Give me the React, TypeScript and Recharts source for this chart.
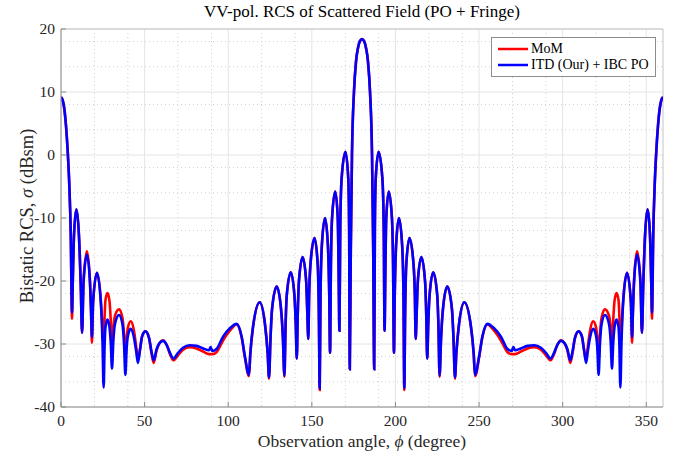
import React from "react";
import {
  LineChart,
  Line,
  XAxis,
  YAxis,
  CartesianGrid,
  ReferenceLine,
} from "recharts";

// observation angle (deg), grouped lobe by lobe
const phi = [
  0, 1, 2, 3, 4, 5, 5.8, 6.6,
  7.0, 7.8, 9.2, 10.7, 11.8, 12.6,
  13.5, 15.5, 17.3, 18.0, 18.5,
  19.2, 21.5, 23.8, 24.8, 25.5,
  26.1, 26.6, 27.8, 29.0, 29.8, 30.5,
  31.3, 32.3, 34.7, 36.7, 37.7, 38.5,
  39.3, 40.1, 41.7, 43.5, 45.0, 46.0,
  47.3, 48.5, 50.5, 52.6, 54.2, 55.4,
  57.2, 58.8, 61.0, 63.3, 65.3, 67.3,
  70, 73, 77, 81, 85, 88.5, 89.5, 90.5,
  93, 97, 101, 105, 108, 110, 112.4,
  113.2, 114.8, 118.8, 122.0, 123.6, 124.4,
  125.3, 126.2, 129.0, 131.6, 132.7, 133.6,
  134.3, 135.0, 137.4, 139.6, 140.4, 141.0,
  141.6, 142.3, 144.5, 146.6, 147.3, 147.9,
  148.4, 149.2, 151.6, 153.5, 154.2, 154.7,
  155.2, 156.0, 157.9, 159.6, 160.4, 160.9,
  161.4, 162.1, 164.0, 165.5, 166.0, 166.5,
  167.0, 167.8, 170.1, 171.8, 172.3, 172.7,
  173.3, 174.0, 175.2, 176.4, 177.6, 178.8, 180, 181.2, 182.4, 183.6, 184.8, 186.0, 186.7, 187.3,
  187.7, 188.2, 189.9, 192.2, 193.0, 193.5,
  194.0, 194.5, 196.0, 197.9, 198.6, 199.1,
  199.6, 200.4, 202.1, 204.0, 204.8, 205.3,
  205.8, 206.5, 208.4, 210.8, 211.6, 212.1,
  212.7, 213.4, 215.5, 217.7, 218.4, 219.0,
  219.6, 220.4, 222.6, 225.0, 225.7, 226.4,
  227.3, 228.4, 231.0, 233.8, 234.7, 235.6,
  236.4, 238.0, 241.2, 245.2, 246.8, 247.6,
  250, 252, 255, 259, 263, 267,
  269.5, 270.5, 271.5, 275, 279, 283, 287, 290, 292.7,
  294.7, 296.7, 299.0, 301.2, 302.8, 304.6,
  305.8, 307.4, 309.5, 311.5, 312.7, 314.0,
  315.0, 316.5, 318.3, 319.9, 320.7, 321.5,
  322.3, 323.3, 325.3, 327.7, 328.7, 329.5,
  330.2, 331.0, 332.2, 333.4, 333.9, 334.5,
  335.2, 336.2, 338.5, 340.8, 341.5,
  342.0, 342.7, 344.5, 346.5, 347.4,
  348.2, 349.3, 350.8, 352.2, 353.0, 353.4,
  354.2, 355, 356, 357, 358, 359, 360,
];

// MoM reference (dBsm)
const mom = [
  9.2, 8.7, 7.3, 4.6, 0.6, -5.0, -12.2, -26.0,
  -20.6, -12.6, -8.6, -12.6, -20.6, -28.2,
  -19.8, -15.3, -19.8, -25.0, -29.8,
  -23.3, -18.7, -23.0, -27.5, -30.5,
  -25.5, -23.0, -21.9, -23.2, -26.5, -31.0,
  -27.5, -25.5, -24.5, -25.8, -28.5, -32.3,
  -29.0, -27.3, -26.4, -27.7, -30.5, -32.5,
  -30.8, -28.8, -28.0, -29.0, -31.6, -33.0,
  -31.0, -29.9, -29.4, -30.2, -31.7, -32.6,
  -31.8, -30.9, -30.5, -30.7, -31.2, -31.6, -31.6, -31.6,
  -31.3, -29.4, -27.9, -26.9, -28.9, -32.2, -35.1,
  -31.7, -27.4, -23.4, -26.9, -31.6, -35.5,
  -29.0, -24.5, -20.9, -24.5, -29.0, -35.2,
  -27.0, -22.3, -18.6, -22.3, -27.0, -32.3,
  -25.0, -20.0, -16.2, -20.0, -25.0, -29.2,
  -22.0, -17.3, -13.2, -17.3, -25.0, -37.3,
  -22.0, -14.3, -10.0, -14.3, -22.0, -31.4,
  -17.8, -10.0, -5.8, -10.0, -17.8, -27.9,
  -11.5, -3.8, 0.5, -3.8, -11.5, -34.0,
  -15.0, 0.0, 10.0, 14.8, 17.0, 18.1, 18.4, 18.1, 17.0, 14.8, 10.0, 0.0, -15.0, -34.0,
  -11.5, -3.8, 0.5, -3.8, -11.5, -27.9,
  -17.8, -10.0, -5.8, -10.0, -17.8, -31.4,
  -22.0, -14.3, -10.0, -14.3, -22.0, -37.3,
  -25.0, -17.3, -13.2, -17.3, -22.0, -29.2,
  -25.0, -20.0, -16.2, -20.0, -25.0, -32.3,
  -27.0, -22.3, -18.6, -22.3, -27.0, -35.2,
  -29.0, -24.5, -20.9, -24.5, -29.0, -35.5,
  -31.6, -26.9, -23.4, -27.4, -31.7, -35.1,
  -32.2, -28.9, -26.9, -27.9, -29.4, -31.3,
  -31.6, -31.6, -31.6, -31.2, -30.7, -30.5, -30.9, -31.8, -32.6,
  -31.7, -30.2, -29.4, -29.9, -31.0, -33.0,
  -31.6, -29.0, -28.0, -28.8, -30.8, -32.5,
  -30.5, -27.7, -26.4, -27.3, -29.0, -32.3,
  -28.5, -25.8, -24.5, -25.5, -27.5, -31.0,
  -26.5, -23.2, -21.9, -23.0, -25.5, -30.5,
  -27.5, -23.0, -18.7, -23.3, -29.8,
  -25.0, -19.8, -15.3, -19.8, -28.2,
  -20.6, -12.6, -8.6, -12.6, -20.6, -26.0,
  -12.2, -5.0, 0.6, 4.6, 7.3, 8.7, 9.2,
];

// ITD (Our) + IBC PO (dBsm)
const itd = [
  9.2, 8.7, 7.3, 4.6, 0.6, -5.0, -12.0, -25.0,
  -20.6, -12.6, -8.6, -12.6, -20.6, -28.2,
  -20.2, -15.8, -20.2, -25.0, -28.9,
  -23.3, -18.7, -23.3, -29.5, -36.9,
  -30.0, -27.3, -26.1, -27.3, -30.0, -33.9,
  -29.5, -26.8, -25.4, -26.8, -30.0, -34.9,
  -30.5, -28.6, -27.6, -28.8, -31.2, -33.0,
  -30.8, -28.8, -28.0, -29.0, -31.3, -32.6,
  -30.8, -29.9, -29.5, -30.2, -31.5, -32.3,
  -31.4, -30.6, -30.2, -30.3, -30.7, -31.0, -30.5, -31.1,
  -30.8, -28.8, -27.5, -26.8, -28.8, -32.0, -34.9,
  -31.5, -27.3, -23.4, -26.9, -31.5, -35.3,
  -29.0, -24.5, -20.9, -24.5, -29.0, -35.0,
  -27.0, -22.3, -18.6, -22.3, -27.0, -32.3,
  -25.0, -20.0, -16.2, -20.0, -25.0, -29.2,
  -22.0, -17.3, -13.2, -17.3, -25.0, -37.0,
  -22.0, -14.3, -10.0, -14.3, -22.0, -31.4,
  -17.8, -10.0, -5.8, -10.0, -17.8, -27.9,
  -11.5, -3.8, 0.5, -3.8, -11.5, -34.0,
  -15.0, 0.0, 10.0, 14.8, 17.0, 18.1, 18.4, 18.1, 17.0, 14.8, 10.0, 0.0, -15.0, -34.0,
  -11.5, -3.8, 0.5, -3.8, -11.5, -27.9,
  -17.8, -10.0, -5.8, -10.0, -17.8, -31.4,
  -22.0, -14.3, -10.0, -14.3, -22.0, -37.0,
  -25.0, -17.3, -13.2, -17.3, -22.0, -29.2,
  -25.0, -20.0, -16.2, -20.0, -25.0, -32.3,
  -27.0, -22.3, -18.6, -22.3, -27.0, -35.0,
  -29.0, -24.5, -20.9, -24.5, -29.0, -35.3,
  -31.5, -26.9, -23.4, -27.3, -31.5, -34.9,
  -32.0, -28.8, -26.8, -27.5, -28.8, -30.8,
  -31.1, -30.5, -31.0, -30.7, -30.3, -30.2, -30.6, -31.4, -32.3,
  -31.5, -30.2, -29.5, -29.9, -30.8, -32.6,
  -31.3, -29.0, -28.0, -28.8, -30.8, -33.0,
  -31.2, -28.8, -27.6, -28.6, -30.5, -34.9,
  -30.0, -26.8, -25.4, -26.8, -29.5, -33.9,
  -30.0, -27.3, -26.1, -27.3, -30.0, -36.9,
  -29.5, -23.3, -18.7, -23.3, -28.9,
  -25.0, -20.2, -15.8, -20.2, -28.2,
  -20.6, -12.6, -8.6, -12.6, -20.6, -25.0,
  -12.0, -5.0, 0.6, 4.6, 7.3, 8.7, 9.2,
];

const xTicks = [0, 50, 100, 150, 200, 250, 300, 350];
const yTicks = [-40, -30, -20, -10, 0, 10, 20];
const xMinor = [10, 20, 30, 40, 60, 70, 80, 90, 110, 120, 130, 140, 160, 170, 180, 190, 210, 220, 230, 240, 260, 270, 280, 290, 310, 320, 330, 340];
const yMinor = [-38, -36, -34, -32, -28, -26, -24, -22, -18, -16, -14, -12, -8, -6, -4, -2, 2, 4, 6, 8, 12, 14, 16, 18];

const series = [
  { key: "mom", name: "MoM", color: "#ff0000" },
  { key: "itd", name: "ITD (Our) + IBC PO", color: "#0000ff" },
];

const data = phi.map((p, i) => ({ phi: p, mom: mom[i], itd: itd[i] }));

const serif = "'Liberation Serif', 'Times New Roman', serif";
const labelColor = "#262626";
const axisColor = "#8a8a8a";

const XTick = (props: any) => {
  const { x, y, payload } = props;
  return (
    <g>
      <line x1={x} y1={y} x2={x} y2={y - 5} stroke={axisColor} strokeWidth={1} />
      <text x={x} y={y + 19} textAnchor="middle" fill={labelColor} fontSize={15.5} fontFamily={serif}>
        {payload.value}
      </text>
    </g>
  );
};

const YTick = (props: any) => {
  const { x, y, payload } = props;
  return (
    <g>
      <line x1={x} y1={y} x2={x + 5} y2={y} stroke={axisColor} strokeWidth={1} />
      <text x={x - 6} y={y + 5} textAnchor="end" fill={labelColor} fontSize={15.5} fontFamily={serif}>
        {payload.value}
      </text>
    </g>
  );
};

// legend drawn by hand so it takes no room from the plot
const LegendBox = () => (
  <div
    style={{
      position: "absolute",
      left: 491,
      top: 37,
      border: "1px solid #8c8c8c",
      background: "#fff",
      padding: "3px 6px 3px 5px",
      fontFamily: serif,
      fontSize: 14,
      color: "#000",
      lineHeight: "16px",
    }}
  >
    {series.map((item) => (
      <div key={item.key} style={{ display: "flex", alignItems: "center", whiteSpace: "nowrap" }}>
        <svg width={34} height={16}>
          <line x1={1} y1={8} x2={31} y2={8} stroke={item.color} strokeWidth={2.5} />
        </svg>
        <span>{item.name}</span>
      </div>
    ))}
  </div>
);

export default function App() {
  return (
    <div style={{ position: "absolute", left: 0, top: 0, width: 690, height: 456, background: "#fff" }}>
      <div
        style={{
          position: "absolute",
          left: 162,
          top: 3,
          width: 400,
          textAlign: "center",
          fontFamily: serif,
          fontSize: 17,
          lineHeight: "18px",
          color: "#000",
        }}
      >
        VV-pol. RCS of Scattered Field (PO + Fringe)
      </div>
      <LineChart width={690} height={456} data={data} margin={{ top: 29, right: 27, bottom: 0, left: 0 }}>
        <CartesianGrid
          verticalValues={xMinor}
          horizontalValues={yMinor}
          stroke="#cfcfcf"
          strokeDasharray="1 3"
        />
        <CartesianGrid verticalValues={xTicks} horizontalValues={yTicks} stroke="#e4e4e4" />
        <XAxis
          dataKey="phi"
          type="number"
          domain={[0, 360]}
          ticks={xTicks}
          height={49}
          tickSize={0}
          tickMargin={0}
          tick={<XTick />}
          axisLine={{ stroke: axisColor }}
          allowDataOverflow
          label={({ viewBox }: any) => (
            <text
              x={viewBox.x + viewBox.width / 2}
              y={viewBox.y + 40}
              textAnchor="middle"
              fill={labelColor}
              fontSize={17.5}
              fontFamily={serif}
            >
              Observation angle, <tspan fontStyle="italic">ϕ</tspan> (degree)
            </text>
          )}
        />
        <YAxis
          type="number"
          domain={[-40, 20]}
          ticks={yTicks}
          width={61}
          tickSize={0}
          tickMargin={0}
          tick={<YTick />}
          axisLine={{ stroke: axisColor }}
          allowDataOverflow
          label={({ viewBox }: any) => {
            const cx = viewBox.x + 33;
            const cy = viewBox.y + viewBox.height / 2 - 2;
            return (
              <text
                x={cx}
                y={cy}
                transform={`rotate(-90 ${cx} ${cy})`}
                textAnchor="middle"
                fill={labelColor}
                fontSize={18.5}
                fontFamily={serif}
              >
                Bistatic RCS, <tspan fontStyle="italic">σ</tspan> (dBsm)
              </text>
            );
          }}
        />
        <ReferenceLine y={20} stroke="#c4c4c4" />
        <ReferenceLine x={360} stroke="#c4c4c4" />
        {series.map((s) => (
          <Line
            key={s.key}
            dataKey={s.key}
            name={s.name}
            type="monotone"
            stroke={s.color}
            strokeWidth={2.6}
            dot={false}
            isAnimationActive={false}
          />
        ))}
      </LineChart>
      <LegendBox />
    </div>
  );
}
